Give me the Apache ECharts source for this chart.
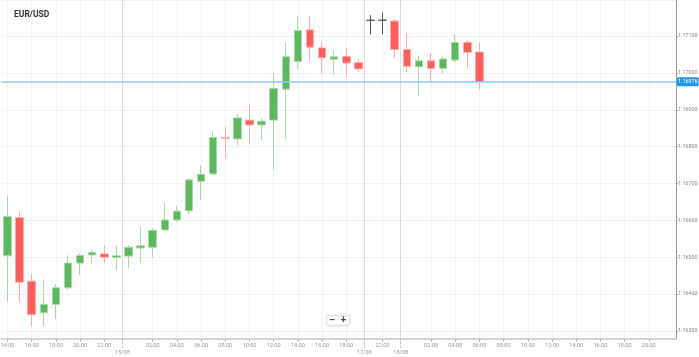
<!DOCTYPE html>
<html>
<head>
<meta charset="utf-8">
<script src="https://cdn.jsdelivr.net/npm/echarts@6/dist/echarts.min.js"></script>
<style>html,body{margin:0;padding:0;background:#fff}#c{width:699px;height:357px}</style>
</head>
<body>
<div id="c"></div>
<script>
const chartTitle = 'EUR/USD';
const opens  = [1.16504,1.16608,1.16435,1.16349,1.16372,1.16417,1.16484,1.16506,1.16509,1.16499,1.16503,1.16525,1.16527,1.16574,1.16601,1.16626,1.16706,1.16726,1.16825,1.16821,1.16872,1.16859,1.16872,1.16956,1.17031,1.17117,1.17068,1.17037,1.17045,1.17028,1.17143,1.17143,1.17141,1.17064,1.17017,1.17033,1.17012,1.17035,1.17083,1.17057];
const closes = [1.16610,1.16432,1.16344,1.16372,1.16417,1.16484,1.16505,1.16513,1.16500,1.16504,1.16527,1.16531,1.16573,1.16601,1.16625,1.16710,1.16725,1.16825,1.16823,1.16878,1.16859,1.16869,1.16958,1.17044,1.17115,1.17070,1.17041,1.17044,1.17027,1.17011,1.17143,1.17143,1.17064,1.17018,1.17033,1.17012,1.17038,1.17083,1.17056,1.16976];
const lows   = [1.16380,1.16377,1.16312,1.16314,1.16332,1.16411,1.16452,1.16481,1.16485,1.16465,1.16470,1.16486,1.16499,1.16571,1.16596,1.16616,1.16655,1.16723,1.16768,1.16804,1.16806,1.16818,1.16737,1.16821,1.17011,1.17034,1.16998,1.16994,1.16988,1.17002,1.17105,1.17105,1.17040,1.17003,1.16938,1.16978,1.16999,1.17029,1.17014,1.16955];
const highs  = [1.16666,1.16624,1.16455,1.16440,1.16427,1.16505,1.16511,1.16520,1.16532,1.16531,1.16533,1.16583,1.16579,1.16648,1.16639,1.16714,1.16750,1.16842,1.16854,1.16888,1.16916,1.16878,1.16999,1.17082,1.17154,1.17154,1.17083,1.17061,1.17069,1.17038,1.17157,1.17164,1.17145,1.17107,1.17046,1.17055,1.17048,1.17105,1.17089,1.17082];
const hourLabels = ['14:00','16:00','18:00','20:00','22:00','02:00','04:00','06:00','08:00','10:00','12:00','14:00','16:00','18:00','22:00','02:00','04:00','06:00','08:00','10:00','12:00','14:00','16:00','18:00','20:00'];
const hourSlots  = [0,2,4,6,8,12,14,16,18,20,22,24,26,28,31,35,37,39,41,43,45,47,49,51,53];
const dayLabels = ['15/08','17/08','18/08'];
const daySlots  = [9.5,29.5,32.5];
const lastPrice = 1.16976;

// axis scaffolding: quarter-slot positions
const firstSlot = -0.5, lastSlot = 55.25, step = 0.25;
const cats = [];
for (let s = firstSlot, i = 0; s <= lastSlot + 1e-9; s += step, i++) cats.push(String(i));
const idxOf = s => String(Math.round((s - firstSlot) / step));
const hourMap = {}; hourSlots.forEach((s, i) => hourMap[idxOf(s)] = hourLabels[i]);
const dayMap = {}; daySlots.forEach((s, i) => dayMap[idxOf(s)] = dayLabels[i]);
const candleData = opens.map((o, k) => [idxOf(k), o, closes[k], lows[k], highs[k]]);
const hourFn = (i, v) => hourMap[v] !== undefined;
const dayFn = (i, v) => dayMap[v] !== undefined;

const chart = echarts.init(document.getElementById('c'), null, {renderer: 'canvas'});
chart.setOption({
  animation: false,
  title: {text: chartTitle, left: 9, top: 5, textStyle: {fontSize: 8.5, fontWeight: 'bold', color: '#333', fontFamily: 'Roboto'}},
  grid: {left: 1.45, right: 23, top: 0, bottom: 18, outerBoundsMode: 'none'},
  xAxis: [{
    type: 'category', data: cats, boundaryGap: false, position: 'bottom',
    axisLine: {lineStyle: {color: '#d4d4d4', width: 2}},
    axisTick: {show: true, interval: hourFn, length: 3, lineStyle: {color: '#bbb'}},
    axisLabel: {interval: hourFn, formatter: v => hourMap[v] || '', fontSize: 5.6, color: '#999', margin: 4, fontFamily: 'Roboto'},
    splitLine: {show: true, interval: hourFn, lineStyle: {color: '#f2f2f2'}}
  }, {
    type: 'category', data: cats, boundaryGap: false, position: 'bottom',
    axisLine: {show: false},
    axisTick: {show: true, interval: dayFn, length: 10, lineStyle: {color: '#aaa', type: 'dotted'}},
    axisLabel: {interval: dayFn, formatter: v => dayMap[v] || '', fontSize: 5.6, color: '#999', margin: 11, fontFamily: 'Roboto'},
    splitLine: {show: true, interval: dayFn, lineStyle: {color: '#dcdcdc'}}
  }],
  yAxis: {
    type: 'value', position: 'right', min: 1.16278, max: 1.17198,
    minInterval: 0.001, maxInterval: 0.001, splitNumber: 9,
    axisLine: {show: true, lineStyle: {color: '#999'}},
    axisTick: {show: true, length: 2, lineStyle: {color: '#999'}},
    axisLabel: {formatter: v => v.toFixed(5), fontSize: 5.4, color: '#888', margin: 2, showMinLabel: false, showMaxLabel: false, fontFamily: 'Roboto'},
    splitLine: {lineStyle: {color: '#f0f0f0'}}
  },
  series: [{
    type: 'candlestick', xAxisIndex: 0, data: candleData,
    encode: {x: 0, y: [1, 2, 3, 4]},
    barWidth: 8,
    itemStyle: {
      color: '#5cb85c', color0: '#ff5c5c',
      borderColor: '#a6dba6', borderColor0: '#ffaaaa',
      borderColorDoji: '#555', borderWidth: 1
    },
    markLine: {
      silent: true, symbol: 'none', precision: 5,
      lineStyle: {color: '#8fcaf7', width: 1.5, type: 'solid'},
      label: {show: true, position: 'end', distance: 1, formatter: () => lastPrice.toFixed(5),
        backgroundColor: '#2196f3', color: '#fff', fontSize: 5.4, padding: [2, 1, 2, 1], borderRadius: 1, fontFamily: 'Roboto'},
      data: [{yAxis: lastPrice}]
    }
  }],
  graphic: [{
    type: 'group', left: 326, top: 315,
    children: [
      {type: 'rect', shape: {x: 0, y: 0, width: 23, height: 10, r: 1}, style: {fill: '#fff', stroke: '#e2e2e2', shadowBlur: 2, shadowColor: 'rgba(0,0,0,0.15)'}},
      {type: 'text', x: 6, y: 5, style: {text: '−', fontSize: 10, fontWeight: 'bold', fill: '#444', align: 'center', verticalAlign: 'middle'}},
      {type: 'text', x: 17, y: 5, style: {text: '+', fontSize: 10, fontWeight: 'bold', fill: '#444', align: 'center', verticalAlign: 'middle'}}
    ]
  }]
});
</script>
</body>
</html>
